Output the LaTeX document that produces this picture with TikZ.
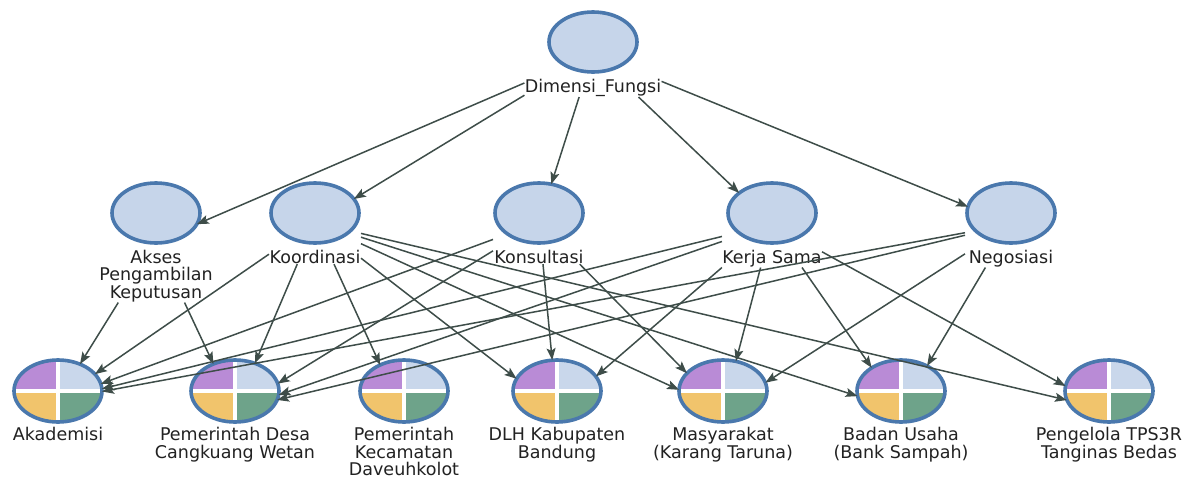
\documentclass[tikz,border=0pt]{standalone}
\usepackage{fontspec}
\newfontfamily\lblfont{DejaVu Sans}
\usetikzlibrary{arrows.meta,fit,intersections,shapes.geometric}
\definecolor{nodefill}{HTML}{C6D5EA}
\definecolor{nodeline}{HTML}{4A78AD}
\definecolor{qpurple}{HTML}{B98BD6}
\definecolor{qblue}{HTML}{C9D7EB}
\definecolor{qgold}{HTML}{F1C46C}
\definecolor{qgreen}{HTML}{6EA38A}
\definecolor{edgecol}{HTML}{3E4D49}
\definecolor{txt}{HTML}{222222}
\tikzset{
  lbl/.style={font=\lblfont\fontsize{17.5}{17.5}\selectfont, text=txt, align=center, inner sep=0pt, anchor=north},
  ring/.style={draw=nodeline, line width=3.6pt},
  plainc/.style={ellipse, minimum width=88pt, minimum height=60pt, inner sep=0pt, fill=nodefill, ring},
  piec/.style={ellipse, minimum width=88pt, minimum height=62pt, inner sep=0pt, ring,
    path picture={
      \fill[qpurple] (path picture bounding box.center) rectangle (path picture bounding box.north west);
      \fill[qblue] (path picture bounding box.center) rectangle (path picture bounding box.north east);
      \fill[qgold] (path picture bounding box.center) rectangle (path picture bounding box.south west);
      \fill[qgreen] (path picture bounding box.center) rectangle (path picture bounding box.south east);
      \draw[white, line width=4pt] (path picture bounding box.west) -- (path picture bounding box.east)
        (path picture bounding box.north) -- (path picture bounding box.south);
    }},
  boxfit/.style={inner sep=0pt, draw=none},
  edge/.style={draw=edgecol, line width=1.5pt, -{Stealth[length=12pt,width=9pt,inset=2.5pt]}},
}
\newcommand\plainnode[4]{%
  \path[name path=#1p] (#2,#3) ellipse [x radius=44pt, y radius=30pt];
  \node[plainc] (#1c) at (#2,#3) {};
  \node[lbl] (#1l) at (#2,{#3+37}) {#4};
  \node[boxfit, fit=(#1c)(#1l)] (#1) {};
}
\newcommand\pienode[4]{%
  \path[name path=#1p] (#2,#3) ellipse [x radius=44pt, y radius=31pt];
  \node[piec] (#1c) at (#2,#3) {};
  \node[lbl] (#1l) at (#2,{#3+36}) {#4};
  \node[boxfit, fit=(#1c)(#1l)] (#1) {};
}
\newcommand\edgeAB[2]{%
  \path[name path=tmpln] (#1.center) -- (#2.center);
  \path[name intersections={of=tmpln and #2p, sort by=tmpln, by=ix}];
  \draw[edge] (#1) -- (ix);
}
\begin{document}
\begin{tikzpicture}[x=1pt, y=-1pt]
\useasboundingbox[fill=white] (0,0) rectangle (1197,479);
% top
\plainnode{dim}{593}{42}{Dimensi\_Fungsi}
% middle
\plainnode{akses}{156}{213}{Akses\\Pengambilan\\Keputusan}
\plainnode{koor}{315}{213}{Koordinasi}
\plainnode{kons}{539}{213}{Konsultasi}
\plainnode{kerja}{772}{213}{Kerja Sama}
\plainnode{nego}{1011}{213}{Negosiasi}
% bottom
\pienode{akad}{58}{391}{Akademisi}
\pienode{desa}{235}{391}{Pemerintah Desa\\Cangkuang Wetan}
\pienode{kec}{404}{391}{Pemerintah\\Kecamatan\\Daveuhkolot}
\pienode{dlh}{557}{391}{DLH Kabupaten\\Bandung}
\pienode{masy}{723}{391}{Masyarakat\\(Karang Taruna)}
\pienode{badan}{901}{391}{Badan Usaha\\(Bank Sampah)}
\pienode{peng}{1109}{391}{Pengelola TPS3R\\Tanginas Bedas}
% edges
\edgeAB{dim}{akses}
\edgeAB{dim}{koor}
\edgeAB{dim}{kons}
\edgeAB{dim}{kerja}
\edgeAB{dim}{nego}
\edgeAB{akses}{akad}
\edgeAB{akses}{desa}
\edgeAB{koor}{akad}
\edgeAB{koor}{desa}
\edgeAB{koor}{kec}
\edgeAB{koor}{dlh}
\edgeAB{koor}{masy}
\edgeAB{koor}{badan}
\edgeAB{koor}{peng}
\edgeAB{kons}{akad}
\edgeAB{kons}{desa}
\edgeAB{kons}{dlh}
\edgeAB{kons}{masy}
\edgeAB{kerja}{akad}
\edgeAB{kerja}{desa}
\edgeAB{kerja}{dlh}
\edgeAB{kerja}{masy}
\edgeAB{kerja}{badan}
\edgeAB{kerja}{peng}
\edgeAB{nego}{akad}
\edgeAB{nego}{desa}
\edgeAB{nego}{masy}
\edgeAB{nego}{badan}
\end{tikzpicture}
\end{document}
